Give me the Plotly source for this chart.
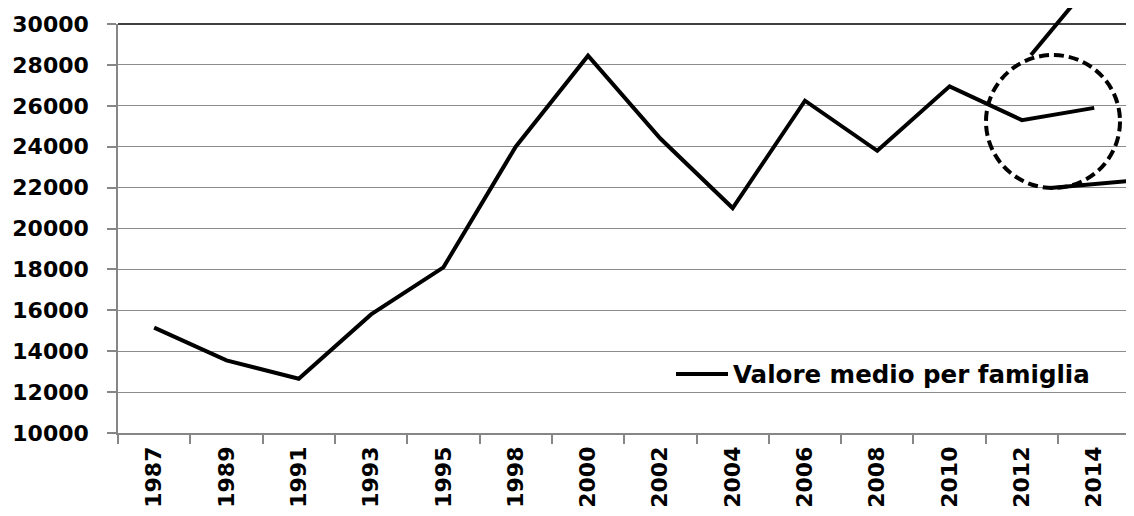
import plotly.graph_objects as go

years = ["1987", "1989", "1991", "1993", "1995", "1998", "2000",
         "2002", "2004", "2006", "2008", "2010", "2012", "2014"]
values = [15150, 13550, 12650, 15800, 18100, 24000, 28450,
          24400, 21000, 26250, 23800, 26950, 25300, 25900]
series_name = "Valore medio per famiglia"

FONT = "DejaVu Sans"

fig = go.Figure()
fig.add_trace(go.Scatter(
    x=years, y=values, mode="lines", name=series_name,
    line=dict(color="black", width=4),
))

# page has an 8px body margin; work in screen pixels
OFF = 8
L, R, T, B = 118, 1134, 24, 433
def px(x):
    return (x - L) / (R - L)
def py(y):
    return (B - y) / (B - T)

shapes = [
    # top border line (black)
    dict(type="line", xref="paper", yref="paper", x0=0, x1=1, y0=1, y1=1,
         line=dict(color="black", width=1.5), layer="above"),
    # dashed magnifier circle
    dict(type="circle", xref="paper", yref="paper",
         x0=px(986), x1=px(1120), y0=py(188), y1=py(55),
         line=dict(color="black", width=4, dash="10px,5px"), layer="above"),
    # callout lines
    dict(type="line", xref="paper", yref="paper",
         x0=px(1031), y0=py(55), x1=px(1085), y1=py(-10),
         line=dict(color="black", width=4), layer="above"),
    dict(type="line", xref="paper", yref="paper",
         x0=px(1050), y0=py(188), x1=px(1140), y1=py(180),
         line=dict(color="black", width=4), layer="above"),
    # longer legend sample line
    dict(type="line", xref="paper", yref="paper",
         x0=px(676), y0=py(374), x1=px(705), y1=py(374),
         line=dict(color="black", width=4), layer="above"),
]

fig.update_layout(
    width=1134 - OFF, height=516 - OFF,
    margin=dict(l=L - OFF, r=0, t=T - OFF, b=516 - B, pad=0, autoexpand=False),
    paper_bgcolor="white", plot_bgcolor="white",
    showlegend=True,
    legend=dict(
        x=px(693), y=py(374), xanchor="left", yanchor="middle",
        bgcolor="rgba(0,0,0,0)",
        font=dict(family=FONT, size=24.5, color="black", weight="bold"),
    ),
    shapes=shapes,
    xaxis=dict(
        type="category", range=[-0.5, 13.55], automargin=False,
        showgrid=False, showline=True, linecolor="#868686", linewidth=1.5,
        ticks="outside", ticklen=9, tickcolor="#868686", tickwidth=1.5,
        tickson="boundaries", tickangle=-90,
        tickfont=dict(family=FONT, size=22, color="black", weight="bold"),
        ticklabelstandoff=3,
    ),
    yaxis=dict(
        range=[10000, 30000], dtick=2000, tick0=10000, tickformat="d",
        automargin=False,
        showgrid=True, gridcolor="#8c8c8c", gridwidth=1.2,
        showline=True, linecolor="#868686", linewidth=1.5,
        ticks="outside", ticklen=9, tickcolor="#868686", tickwidth=1.5,
        tickfont=dict(family=FONT, size=22, color="black", weight="bold"),
        ticklabelstandoff=14, zeroline=False,
    ),
)

fig.write_html("out.html")
